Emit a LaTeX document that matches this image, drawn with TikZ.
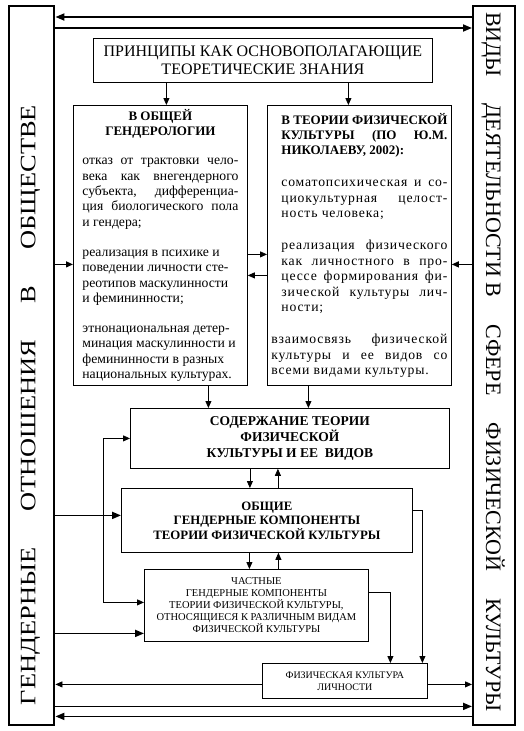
\documentclass[tikz,border=0pt]{standalone}
\usepackage{fontspec}
\setmainfont{Liberation Serif}
\newfontfamily\widefont[FakeStretch=1.2]{Liberation Serif}
\newfontfamily\spacedfont[LetterSpace=6]{Liberation Serif}
\usepackage{xcolor}
\usepackage{tikz}
\usetikzlibrary{positioning, arrows.meta}

\newcommand{\bodyfont}{\fontsize{13.7}{15.4}\selectfont\sloppy}
\newcommand{\headfont}{\fontsize{13}{15}\selectfont\bfseries}

\begin{document}
\begin{tikzpicture}[x=1pt, y=-1pt,
    >={Triangle[length=7pt, width=6pt]},
    box/.style={draw, line width=0.8pt, inner sep=0pt, anchor=north west},
    sidebox/.style={draw, line width=2.4pt, inner sep=0pt, anchor=north west},
    sidetext/.style={inner sep=0pt, font=\fontsize{22}{26}\selectfont},
    link/.style={line width=0.8pt, ->},
    midlink/.style={line width=1.2pt, ->},
    boldlink/.style={line width=1.8pt, -{Triangle[length=9pt, width=7pt]}}]
    \useasboundingbox (0,0) rectangle (523,731);

    \node[sidebox, minimum width=45pt, minimum height=719pt] (gend) at (8,5) {};
    \node[sidebox, minimum width=42pt, minimum height=719pt] (vid) at (472,5) {};
    \node[sidetext, rotate=90] (gendtext) at (30.5,405) {%
      \widefont\makebox[600pt]{ГЕНДЕРНЫЕ\hfill ОТНОШЕНИЯ\hfill В\hfill ОБЩЕСТВЕ}};
    \node[sidetext, rotate=-90] (vidtext) at (493,362) {%
      \makebox[700pt]{ВИДЫ\hfill ДЕЯТЕЛЬНОСТИ В\hfill СФЕРЕ\hfill ФИЗИЧЕСКОЙ\hfill КУЛЬТУРЫ}};

    \node[box, minimum width=339pt, minimum height=44pt, align=center,
          font=\fontsize{16}{18}\selectfont] (princ) at (93,38) {%
      ПРИНЦИПЫ КАК ОСНОВОПОЛАГАЮЩИЕ\\ТЕОРЕТИЧЕСКИЕ ЗНАНИЯ};

    \node[box, text width=156pt, inner xsep=9pt, minimum height=280pt,
          align=justify, font=\bodyfont] (gen) at (73,105) {%
      {\headfont\centering В ОБЩЕЙ\\ГЕНДЕРОЛОГИИ\par}\vspace{14pt}
      отказ от трактовки чело-\linebreak
      века как внегендерного\linebreak
      субъекта, дифференциа-\linebreak
      ция биологического пола\linebreak
      и гендера;\par\vspace{14.6pt}
      реализация в психике и\\
      поведении личности сте-\\
      реотипов маскулинности\\
      и фемининности;\par\vspace{14.6pt}
      этнонациональная детер-\\
      минация маскулинности и\\
      фемининности в разных\\
      национальных культурах.};

    \node[box, text width=176pt, inner xsep=4pt, minimum height=280pt,
          align=justify, font=\bodyfont] (teor) at (267,105) {%
      \leftskip=10pt
      {\headfont В ТЕОРИИ ФИЗИЧЕСКОЙ\linebreak
      КУЛЬТУРЫ (ПО Ю.М.\linebreak
      НИКОЛАЕВУ, 2002):\par}\vspace{17pt}
      \spacedfont
      соматопсихическая и со-\linebreak
      циокультурная целост-\linebreak
      ность человека;\par\vspace{17pt}
      реализация физического\linebreak
      как личностного в про-\linebreak
      цессе формирования фи-\linebreak
      зической культуры лич-\linebreak
      ности;\par\vspace{17pt}
      взаимосвязь физической\linebreak
      культуры и ее видов со\linebreak
      всеми видами культуры.};

    \node[box, minimum width=319pt, minimum height=60pt, align=center,
          font=\fontsize{13.5}{16}\selectfont\bfseries] (sod) at (130,408) {%
      СОДЕРЖАНИЕ ТЕОРИИ\\ФИЗИЧЕСКОЙ\\КУЛЬТУРЫ И ЕЕ\ \ ВИДОВ};

    \node[box, minimum width=291pt, minimum height=64pt, align=center,
          font=\fontsize{12.8}{14.5}\selectfont\bfseries] (obsh) at (121,488) {%
      ОБЩИЕ\\ГЕНДЕРНЫЕ КОМПОНЕНТЫ\\ТЕОРИИ ФИЗИЧЕСКОЙ КУЛЬТУРЫ};

    \node[box, minimum width=224pt, minimum height=72pt, align=center,
          font=\fontsize{10.5}{12}\selectfont] (chast) at (144,569) {%
      ЧАСТНЫЕ\\ГЕНДЕРНЫЕ КОМПОНЕНТЫ\\ТЕОРИИ ФИЗИЧЕСКОЙ КУЛЬТУРЫ,\\
      ОТНОСЯЩИЕСЯ К РАЗЛИЧНЫМ ВИДАМ\\ФИЗИЧЕСКОЙ КУЛЬТУРЫ};

    \node[box, minimum width=165pt, minimum height=35pt, align=center,
          font=\fontsize{10}{12}\selectfont] (fiz) at (262,663) {%
      ФИЗИЧЕСКАЯ КУЛЬТУРА\\ЛИЧНОСТИ};

    \draw[boldlink] ([yshift=-12pt]vid.north west) -- ([yshift=-12pt]gend.north east);
    \draw[boldlink] ([yshift=-23pt]gend.north east) -- ([yshift=-23pt]vid.north west);
    \draw[boldlink] ([yshift=20pt]gend.south east) -- ([yshift=20pt]vid.south west);
    \draw[boldlink] ([yshift=10pt]vid.south west) -- ([yshift=10pt]gend.south east);

    \draw[link] ([xshift=6pt]gen.north |- princ.south) -- ([xshift=6pt]gen.north);
    \draw[link] ([xshift=-11pt]teor.north |- princ.south) -- ([xshift=-11pt]teor.north);
    \draw[link] ([yshift=-9pt]gen.east) -- ([yshift=-9pt]gen.east -| teor.west);
    \draw[link] ([yshift=-30pt]gen.east -| teor.west) -- ([yshift=-30pt]gen.east);
    \draw[midlink] ([yshift=-19pt]gen.west -| gend.east) -- ([yshift=-19pt]gen.west);
    \draw[midlink] ([yshift=-19pt]teor.east -| vid.west) -- ([yshift=-19pt]teor.east);

    \draw[link] ([xshift=48pt]gen.south) -- ([xshift=48pt]gen.south |- sod.north);
    \draw[link] ([xshift=-51pt]teor.south) -- ([xshift=-51pt]teor.south |- sod.north);
    \draw[link] ([xshift=-40pt]sod.south) -- ([xshift=-40pt]sod.south |- obsh.north);
    \draw[link] ([xshift=-12pt]sod.south |- obsh.north) -- ([xshift=-12pt]sod.south);
    \draw[link] ([xshift=-7pt]chast.north |- obsh.south) -- ([xshift=-7pt]chast.north);
    \draw[link] ([xshift=22pt]chast.north) -- ([xshift=22pt]chast.north |- obsh.south);

    \draw[boldlink] ([yshift=5pt]obsh.west -| gend.east) -- ([yshift=5pt]obsh.west);
    \draw[boldlink] ([yshift=-28pt]chast.west -| gend.east) -- ([yshift=-28pt]chast.west);
    \draw[link, <->] ([yshift=3pt]chast.west) -| ([xshift=-27pt]sod.west) -- (sod.west);

    \draw[link] ([yshift=13pt]chast.east) -| ([xshift=45.5pt]fiz.north);
    \draw[link] ([yshift=10pt]obsh.east) -| ([xshift=77.5pt]fiz.north);
    \draw[link] ([yshift=-3.5pt]fiz.east) -- ([yshift=-3.5pt]fiz.east -| vid.west);
    \draw[link] ([yshift=-3.5pt]fiz.west) -- ([yshift=-3.5pt]fiz.west -| gend.east);
\end{tikzpicture}
\end{document}
